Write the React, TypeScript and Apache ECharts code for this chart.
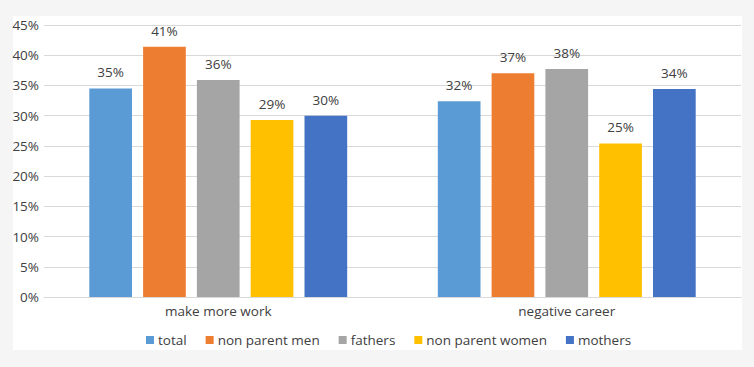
import React, { useEffect, useRef } from "react";
import * as echarts from "echarts";

const categories = ["make more work", "negative career"];
const seriesNames = ["total", "non parent men", "fathers", "non parent women", "mothers"];
const seriesColors = ["#5B9BD5", "#ED7D31", "#A5A5A5", "#FFC000", "#4472C4"];
const total = [34.5, 32.4];
const nonParentMen = [41.4, 37.0];
const fathers = [35.9, 37.7];
const nonParentWomen = [29.3, 25.4];
const mothers = [30.0, 34.4];
const yTicks = { min: 0, max: 45, interval: 5 };

const FONT = "'Open Sans', sans-serif";
const FS = 13.5;

export default function App() {
  const ref = useRef<HTMLDivElement>(null);
  useEffect(() => {
    if (!ref.current) return;
    const chart = echarts.init(ref.current, undefined, { renderer: "svg" });
    const data = [total, nonParentMen, fathers, nonParentWomen, mothers];
    chart.setOption({
      animation: false,
      backgroundColor: "#f5f5f5",
      textStyle: { fontFamily: FONT },
      graphic: [
        {
          type: "rect",
          z: -10,
          silent: true,
          shape: { x: 13, y: 16, width: 729, height: 334 },
          style: { fill: "#ffffff" },
        },
      ],
      grid: { left: 44, right: 13, top: 25, bottom: 70, containLabel: false },
      legend: {
        data: seriesNames,
        bottom: 15,
        left: 141,
        itemWidth: 8,
        itemHeight: 8,
        itemGap: 19,
        icon: "rect",
        textStyle: { fontFamily: FONT, fontSize: FS, color: "#404040", padding: [0, 0, 0, -1] },
      },
      xAxis: {
        type: "category",
        data: categories,
        axisLine: { lineStyle: { color: "#d9d9d9" } },
        axisTick: { show: false },
        axisLabel: { fontFamily: FONT, fontSize: FS, color: "#404040", margin: 7 },
      },
      yAxis: {
        type: "value",
        min: yTicks.min,
        max: yTicks.max,
        interval: yTicks.interval,
        axisLine: { show: false },
        axisTick: { show: false },
        splitLine: { lineStyle: { color: "#d9d9d9" } },
        axisLabel: {
          fontFamily: FONT,
          fontSize: FS,
          color: "#404040",
          margin: 5,
          formatter: (v: number) => v + "%",
        },
      },
      series: seriesNames.map((name, i) => ({
        name,
        type: "bar",
        data: data[i],
        barGap: "26%",
        barCategoryGap: "26%",
        itemStyle: { color: seriesColors[i] },
        label: {
          show: true,
          position: "top",
          distance: 9,
          fontFamily: FONT,
          fontSize: FS,
          color: "#404040",
          formatter: (p: any) => Math.round(p.value) + "%",
        },
      })),
    });
    return () => chart.dispose();
  }, []);
  return (
    <div
      ref={ref}
      style={{ position: "absolute", left: 0, top: 0, width: 754, height: 367 }}
    />
  );
}
